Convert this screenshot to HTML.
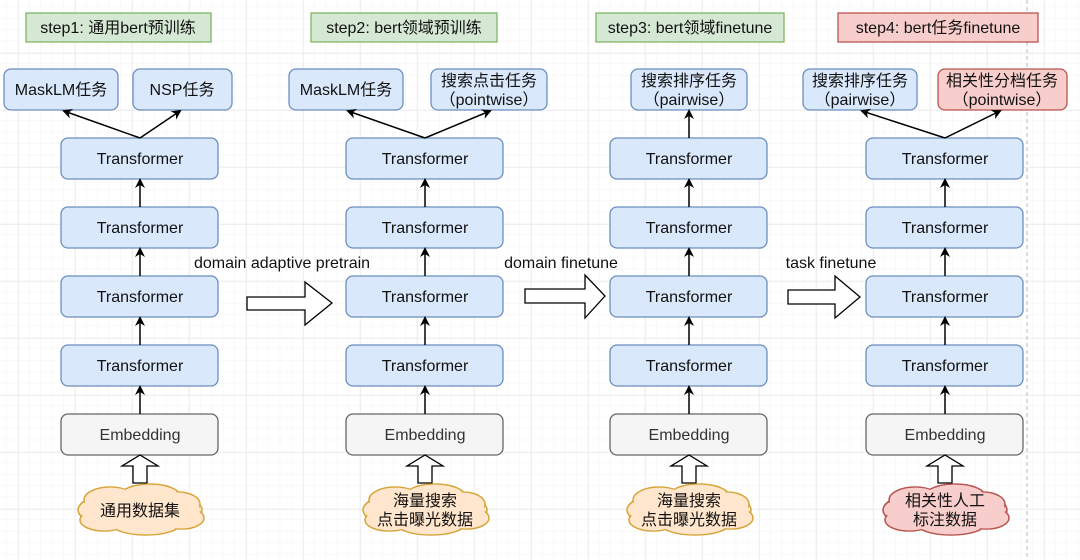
<!DOCTYPE html>
<html><head><meta charset="utf-8"><style>
body{margin:0;background:#fff;}
svg{display:block;font-family:"Liberation Sans","Noto Sans CJK SC",sans-serif;}
</style></head><body>
<svg width="1080" height="560" viewBox="0 0 1080 560" xmlns="http://www.w3.org/2000/svg">
<defs>
<pattern id="minor" x="6.6" y="7" width="11.4" height="11.4" patternUnits="userSpaceOnUse"><path d="M11.4 0V11.4M0 11.4H11.4" stroke="#f3f3f3" stroke-width="1" fill="none"/></pattern>
<pattern id="major" x="18" y="-4" width="57" height="57" patternUnits="userSpaceOnUse"><path d="M0 0V57M0 0H57" stroke="#e2e2e2" stroke-width="1" fill="none"/></pattern>
<marker id="ah" markerWidth="10" markerHeight="10" refX="8" refY="5" orient="auto" markerUnits="userSpaceOnUse"><path d="M0 0L10 5L0 10L3 5Z" fill="#000"/></marker>
<g id="cloudO"><ellipse cx="0" cy="0" rx="62" ry="20"/><ellipse cx="-30" cy="-10" rx="26" ry="13"/><ellipse cx="10" cy="-14" rx="30" ry="12"/><ellipse cx="38" cy="-6" rx="22" ry="12"/><ellipse cx="-36" cy="10" rx="24" ry="11"/><ellipse cx="6" cy="14" rx="34" ry="11"/><ellipse cx="42" cy="8" rx="22" ry="11"/></g>
</defs>
<rect width="1080" height="560" fill="#fff"/>
<rect width="1080" height="560" fill="url(#minor)"/>
<rect width="1080" height="560" fill="url(#major)"/>
<line x1="1027" y1="0" x2="1027" y2="560" stroke="#bbb" stroke-dasharray="4,3"/>

<g font-size="16" text-anchor="middle" fill="#111">
<rect x="26" y="13" width="185" height="29" fill="#d5e8d4" stroke="#82b366" stroke-width="1.3"/>
<text x="118" y="33">step1: 通用bert预训练</text>
<rect x="311" y="13" width="186" height="29" fill="#d5e8d4" stroke="#82b366" stroke-width="1.3"/>
<text x="404" y="33">step2: bert领域预训练</text>
<rect x="596" y="13" width="188" height="29" fill="#d5e8d4" stroke="#82b366" stroke-width="1.3"/>
<text x="690" y="33">step3: bert领域finetune</text>
<rect x="838" y="13" width="200" height="29" fill="#f8cecc" stroke="#b85450" stroke-width="1.3"/>
<text x="938" y="33">step4: bert任务finetune</text>

<g stroke="#6c8ebf" stroke-width="1.3" fill="#dae8fc">
<rect x="4" y="69" width="114" height="41" rx="7"/>
<rect x="133" y="69" width="99" height="41" rx="7"/>
<rect x="289" y="69" width="114" height="41" rx="7"/>
<rect x="431" y="69" width="116" height="41" rx="7"/>
<rect x="631" y="69" width="116" height="41" rx="7"/>
<rect x="803" y="69" width="114" height="41" rx="7"/>
</g>
<rect x="938" y="69" width="129" height="41" rx="7" fill="#f8cecc" stroke="#b85450" stroke-width="1.3"/>
<text x="61" y="95">MaskLM任务</text>
<text x="182" y="95">NSP任务</text>
<text x="346" y="95">MaskLM任务</text>
<text x="489" y="86">搜索点击任务</text><text x="489" y="105">（pointwise）</text>
<text x="689" y="86">搜索排序任务</text><text x="689" y="105">（pairwise）</text>
<text x="860" y="86">搜索排序任务</text><text x="860" y="105">（pairwise）</text>
<text x="1002" y="86">相关性分档任务</text><text x="1002" y="105">（pointwise）</text>

<g id="col">
<g stroke="#6c8ebf" stroke-width="1.3" fill="#dae8fc">
<rect x="61" y="138" width="157" height="41" rx="7"/>
<rect x="61" y="207" width="157" height="41" rx="7"/>
<rect x="61" y="276" width="157" height="41" rx="7"/>
<rect x="61" y="345" width="157" height="41" rx="7"/>
</g>
<rect x="61" y="414" width="157" height="41" rx="7" fill="#f5f5f5" stroke="#666" stroke-width="1.3"/>
<text x="140" y="164">Transformer</text>
<text x="140" y="233">Transformer</text>
<text x="140" y="302">Transformer</text>
<text x="140" y="371">Transformer</text>
<text x="140" y="440" fill="#333">Embedding</text>
<g stroke="#000" stroke-width="1.5" marker-end="url(#ah)">
<line x1="140" y1="414" x2="140" y2="387"/>
<line x1="140" y1="345" x2="140" y2="318"/>
<line x1="140" y1="276" x2="140" y2="249"/>
<line x1="140" y1="207" x2="140" y2="180"/>
</g>
<path d="M133 483V466H122L140 455L158 466H147V483Z" fill="#fff" stroke="#000" stroke-width="1.3"/>
</g>
<use href="#col" x="285"/>
<use href="#col" x="549"/>
<use href="#col" x="805"/>

<g stroke="#000" stroke-width="1.5" marker-end="url(#ah)">
<line x1="140" y1="138" x2="64" y2="111"/>
<line x1="140" y1="138" x2="180" y2="111"/>
<line x1="425" y1="138" x2="348" y2="111"/>
<line x1="425" y1="138" x2="490" y2="111"/>
<line x1="689" y1="138" x2="689" y2="111"/>
<line x1="945" y1="138" x2="862" y2="111"/>
<line x1="945" y1="138" x2="1000" y2="111"/>
</g>

<g fill="#fff" stroke="#000" stroke-width="1.3">
<path d="M247 297H305V282L332 303L305 325V310H247Z"/>
<path d="M525 289H585V275L605 296L585 318V303H525Z"/>
<path d="M788 290H835V276L860 297L835 318V304H788Z"/>
</g>
<text x="282" y="268">domain adaptive pretrain</text>
<text x="561" y="268">domain finetune</text>
<text x="831" y="268">task finetune</text>

<g fill="#ffe6cc" stroke="#d6a53a" stroke-width="1.5">
<use href="#cloudO" transform="translate(140,510)"/>
<use href="#cloudO" transform="translate(425,510)"/>
<use href="#cloudO" transform="translate(689,510)"/>
</g>
<g fill="#ffe6cc" stroke="none">
<use href="#cloudO" transform="translate(140,510) scale(0.97)"/>
<use href="#cloudO" transform="translate(425,510) scale(0.97)"/>
<use href="#cloudO" transform="translate(689,510) scale(0.97)"/>
</g>
<use href="#cloudO" transform="translate(945,510)" fill="#f8cecc" stroke="#b85450" stroke-width="1.5"/>
<use href="#cloudO" transform="translate(945,510) scale(0.97)" fill="#f8cecc" stroke="none"/>
<text x="140" y="516">通用数据集</text>
<text x="425" y="506">海量搜索</text><text x="425" y="525">点击曝光数据</text>
<text x="689" y="506">海量搜索</text><text x="689" y="525">点击曝光数据</text>
<text x="945" y="506">相关性人工</text><text x="945" y="525">标注数据</text>
</g>
</svg>
</body></html>
